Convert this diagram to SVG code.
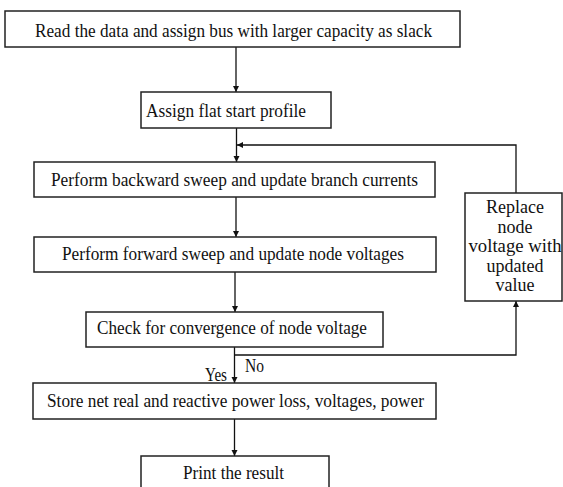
<svg xmlns="http://www.w3.org/2000/svg" width="563" height="487" viewBox="0 0 563 487">
<style>
.box{fill:#fff;stroke:#222;stroke-width:1.5}
.t{font-family:"Liberation Serif","Times New Roman",serif;font-size:18px;fill:#111}
.c{text-anchor:middle}
.ln{fill:none;stroke:#111;stroke-width:1.3}
</style>
<defs>
<marker id="ah" viewBox="0 0 10 10" refX="10" refY="5" markerWidth="6" markerHeight="7" markerUnits="userSpaceOnUse" orient="auto">
<path d="M0,0 L10,5 L0,10 Z" fill="#111"/>
</marker>
</defs>
<rect width="563" height="487" fill="#fff"/>
<g id="connectors">
<line class="ln" x1="236" y1="47" x2="236" y2="92" marker-end="url(#ah)"/>
<line class="ln" x1="236.5" y1="128" x2="236.5" y2="162" marker-end="url(#ah)"/>
<polyline class="ln" points="516,193 516,145 237,145" marker-end="url(#ah)"/>
<line class="ln" x1="236" y1="197" x2="236" y2="237" marker-end="url(#ah)"/>
<line class="ln" x1="235" y1="272" x2="235" y2="312" marker-end="url(#ah)"/>
<line class="ln" x1="234.5" y1="347" x2="234.5" y2="383" marker-end="url(#ah)"/>
<polyline class="ln" points="234.5,355 516,355 516,301" marker-end="url(#ah)"/>
<line class="ln" x1="234.5" y1="419" x2="234.5" y2="456" marker-end="url(#ah)"/>
<text class="t" x="205" y="381" textLength="22" lengthAdjust="spacingAndGlyphs">Yes</text>
<text class="t" x="245" y="372" textLength="19" lengthAdjust="spacingAndGlyphs">No</text>
</g>
<g id="n1">
<rect class="box" x="5" y="11" width="455" height="36"/>
<text class="t" x="35" y="37" textLength="397" lengthAdjust="spacingAndGlyphs">Read the data and assign bus with larger capacity as slack</text>
</g>
<g id="n2">
<rect class="box" x="141" y="92" width="190" height="36"/>
<text class="t" x="146" y="117" textLength="160" lengthAdjust="spacingAndGlyphs">Assign flat start profile</text>
</g>
<g id="n3">
<rect class="box" x="34" y="162" width="401" height="35"/>
<text class="t" x="51" y="186" textLength="367" lengthAdjust="spacingAndGlyphs">Perform backward sweep and update branch currents</text>
</g>
<g id="n4">
<rect class="box" x="34" y="237" width="402" height="35"/>
<text class="t" x="62" y="260" textLength="342" lengthAdjust="spacingAndGlyphs">Perform forward sweep and update node voltages</text>
</g>
<g id="n5">
<rect class="box" x="86" y="312" width="297" height="35"/>
<text class="t" x="97" y="334" textLength="270" lengthAdjust="spacingAndGlyphs">Check for convergence of node voltage</text>
</g>
<g id="n6">
<rect class="box" x="33" y="383" width="403" height="36"/>
<text class="t" x="47" y="407" textLength="377" lengthAdjust="spacingAndGlyphs">Store net real and reactive power loss, voltages, power</text>
</g>
<g id="n7">
<rect class="box" x="141" y="456" width="188" height="36"/>
<text class="t" x="183" y="479" textLength="101" lengthAdjust="spacingAndGlyphs">Print the result</text>
</g>
<g id="n8">
<rect class="box" x="465" y="193" width="97" height="108"/>
<text class="t c" x="515" y="213">Replace</text>
<text class="t c" x="515" y="232.5">node</text>
<text class="t c" x="515" y="252" textLength="93" lengthAdjust="spacingAndGlyphs">voltage with</text>
<text class="t c" x="515" y="271.5">updated</text>
<text class="t c" x="515" y="291">value</text>
</g>
</svg>
